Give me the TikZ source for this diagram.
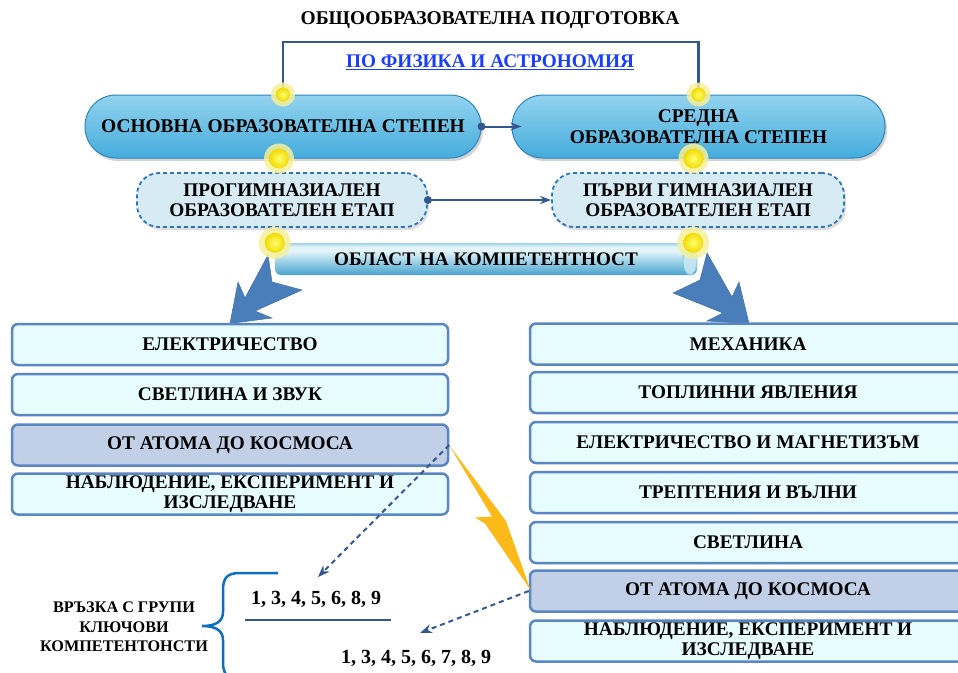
\documentclass[tikz,border=0pt]{standalone}
\usepackage{fontspec}
\setmainfont{Liberation Serif}
\usetikzlibrary{shadows,arrows.meta,calc}

\definecolor{topA}{HTML}{93D3EF}
\definecolor{botA}{HTML}{45ACDB}
\definecolor{edgeA}{HTML}{2E86C1}
\definecolor{dashfill}{HTML}{D6EBF4}
\definecolor{dashedge}{HTML}{2E75B6}
\definecolor{conn}{HTML}{34578F}
\definecolor{colfill}{HTML}{E6FCFE}
\definecolor{coledge}{HTML}{5A86C4}
\definecolor{hlfill}{HTML}{C1D0E7}
\definecolor{bigarrow}{HTML}{4A7EBB}
\definecolor{bigarrowedge}{HTML}{3F6FA8}
\definecolor{boltc}{HTML}{FBBA1A}
\definecolor{bracec}{HTML}{0B6FC0}
\definecolor{linkblue}{HTML}{1A3CFF}
\definecolor{halo}{HTML}{F6F09A}
\definecolor{coreA}{HTML}{FFFF70}
\definecolor{coreB}{HTML}{F2DA00}
\definecolor{ban0}{HTML}{9ED2E6}
\definecolor{ban1}{HTML}{E3F4FA}
\definecolor{ban2}{HTML}{8BC8E2}
\definecolor{ban3}{HTML}{4AA3CB}
\definecolor{curlfill}{HTML}{C8E7F3}
\definecolor{curledge}{HTML}{86C3DD}

\pgfdeclareverticalshading{bannershade}{100bp}{color(0bp)=(ban3); color(25bp)=(ban3); color(42bp)=(ban2); color(62bp)=(ban1); color(69bp)=(ban1); color(75bp)=(ban0); color(100bp)=(ban0)}

\tikzset{
  topbox/.style={draw=edgeA, line width=1pt, rounded corners=31pt, top color=topA, bottom color=botA,
    drop shadow={shadow xshift=2pt, shadow yshift=-3pt, opacity=0.35},
    align=center, font=\bfseries\fontsize{19.4}{20.5}\selectfont, inner sep=0pt, minimum height=63pt},
  dashbox/.style={draw=dashedge, dash pattern=on 4pt off 3pt, line width=1.8pt, fill=dashfill, rounded corners=22pt,
    drop shadow={shadow xshift=2pt, shadow yshift=-3pt, opacity=0.25},
    align=center, font=\bfseries\fontsize{19.3}{20.5}\selectfont, inner sep=0pt, minimum height=54pt},
  colbox/.style={draw=coledge, line width=2.5pt, fill=colfill, rounded corners=6pt, minimum width=436pt,
    minimum height=41pt, font=\bfseries\fontsize{19.3}{20.5}\selectfont, align=center, inner sep=0pt},
  hlbox/.style={colbox, fill=hlfill},
  connline/.style={draw=conn, line width=2pt},
  dasharrow/.style={draw=conn, line width=2pt, dash pattern=on 5pt off 4pt, -{Stealth[length=12pt,width=9pt]}},
  plain/.style={font=\bfseries\fontsize{20}{21}\selectfont, inner sep=0pt, align=center},
  pics/gdot/.style n args={2}{code={
    \fill[halo, opacity=0.85] (0,0) circle (#1);
    \shade[inner color=coreA, outer color=coreB] (0,0) circle (#2);}},
}

\begin{document}
\begin{tikzpicture}[x=1pt,y=-1pt]
\useasboundingbox (0,0) rectangle (958,672);

% titles
\node[plain, font=\bfseries\fontsize{19.5}{20}\selectfont] (title) at (490,20) {ОБЩООБРАЗОВАТЕЛНА ПОДГОТОВКА};
\node[plain, font=\bfseries\fontsize{19.3}{20}\selectfont, text=linkblue] (sub) at (490,62) {\underline{ПО ФИЗИКА И АСТРОНОМИЯ}};

% main level boxes
\node[topbox, minimum width=396pt] (A) at (283,126.5) {ОСНОВНА ОБРАЗОВАТЕЛНА СТЕПЕН};
\node[topbox, minimum width=373pt] (B) at (698.5,126.5) {СРЕДНА\\ОБРАЗОВАТЕЛНА СТЕПЕН};
\node[dashbox, minimum width=290pt] (C) at (282,200) {ПРОГИМНАЗИАЛЕН\\ОБРАЗОВАТЕЛЕН ЕТАП};
\node[dashbox, minimum width=292pt] (D) at (698,200) {ПЪРВИ ГИМНАЗИАЛЕН\\ОБРАЗОВАТЕЛЕН ЕТАП};

% bracket on top
\coordinate (bar) at (490,42);
\draw[connline, line width=2.5pt] (A.north) |- (bar) -| (B.north);

% connectors
\draw[connline, -{Stealth[length=11pt,width=8pt]}] (A.east) -- ([xshift=10pt]B.west);
\fill[conn] (A.east) circle (4pt);
\draw[connline, -{Stealth[length=11pt,width=8pt]}] (C.east) -- (D.west);
\fill[conn] (C.east) circle (4pt);

% banner
\node[draw=none, shading=bannershade, rounded corners=6pt, minimum width=422pt, minimum height=32pt,
  inner sep=0pt, font=\bfseries\fontsize{19.2}{20}\selectfont] (ban) at (486,259) {ОБЛАСТ НА КОМПЕТЕНТНОСТ};
\filldraw[fill=curlfill, draw=curledge, line width=0.8pt, opacity=0.9] (690,260) ellipse (7pt and 15pt);

% big arrows
\fill[bigarrow, draw=bigarrowedge, line width=0.5pt]
  (268,255) -- (272,282) -- (302,290) -- (255,311) -- (272,318) -- (230,323.5) -- (238,282) -- (245,298) -- cycle;
\fill[bigarrow, draw=bigarrowedge, line width=0.5pt]
  (707,253) -- (732,297) -- (739,282) -- (749,323.5) -- (707,321) -- (723,313) -- (673,293) -- (700,280) -- cycle;

% glowing dots
\pic at (A.north) {gdot={12pt}{7pt}};
\pic at (B.north) {gdot={12pt}{7pt}};
\pic at ([xshift=-4pt]A.south) {gdot={15pt}{10pt}};
\pic at ([xshift=-5pt]B.south) {gdot={15pt}{10pt}};
\pic at (ban.north west) {gdot={16pt}{10pt}};
\pic at ([xshift=-4pt]ban.north east) {gdot={16pt}{10pt}};

% left column
\node[colbox] (L1) at (230,344.5) {ЕЛЕКТРИЧЕСТВО};
\node[colbox] (L2) at (230,394.5) {СВЕТЛИНА И ЗВУК};
\node[hlbox]  (L3) at (230,445)   {ОТ АТОМА ДО КОСМОСА};
\node[colbox] (L4) at (230,494)   {НАБЛЮДЕНИЕ, ЕКСПЕРИМЕНТ И\\ИЗСЛЕДВАНЕ};

% right column
\node[colbox] (R1) at (748,344)   {МЕХАНИКА};
\node[colbox] (R2) at (748,392.5) {ТОПЛИННИ ЯВЛЕНИЯ};
\node[colbox] (R3) at (748,442.5) {ЕЛЕКТРИЧЕСТВО И МАГНЕТИЗЪМ};
\node[colbox] (R4) at (748,492.5) {ТРЕПТЕНИЯ И ВЪЛНИ};
\node[colbox] (R5) at (748,542.5) {СВЕТЛИНА};
\node[hlbox]  (R6) at (748,591)   {ОТ АТОМА ДО КОСМОСА};
\node[colbox] (R7) at (748,641)   {НАБЛЮДЕНИЕ, ЕКСПЕРИМЕНТ И\\ИЗСЛЕДВАНЕ};

% lightning
\fill[boltc] (449,445) -- (506,521) -- (530.5,590) -- (485,523.5) -- (475,517.5) -- (492,516.5) -- cycle;

% lower labels
\node[plain, font=\bfseries\fontsize{16.2}{19.5}\selectfont] (kc) at (124,627) {ВРЪЗКА С ГРУПИ\\КЛЮЧОВИ\\КОМПЕТЕНТОНСТИ};
\node[plain] (n1) at (316,599) {1, 3, 4, 5, 6, 8, 9};
\node[plain] (n2) at (416,658) {1, 3, 4, 5, 6, 7, 8, 9};
\coordinate (u1) at (245,620);
\coordinate (u2) at (391,620);
\draw[connline] (u1) -- (u2);

% brace
\draw[bracec, line width=2.5pt]
  (278,573) -- (240,573) .. controls (227,573) and (223,578) .. (223,590) -- (223,612)
  .. controls (223,622) and (215,626) .. (202,626)
  .. controls (215,626) and (223,630) .. (223,640) -- (223,662)
  .. controls (223,674) and (227,679) .. (240,679) -- (278,679);

% dashed arrows
\coordinate (t1) at (318,577);
\coordinate (t2) at (420,633);
\draw[dasharrow] (L3.east) -- (t1);
\draw[dasharrow] (R6.west) -- (t2);
\end{tikzpicture}
\end{document}
